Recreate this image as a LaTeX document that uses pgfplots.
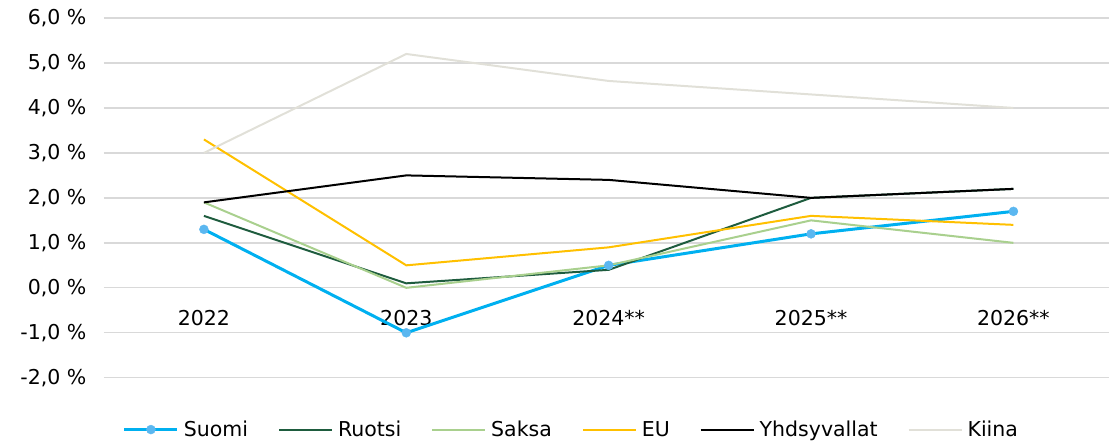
\documentclass[border=0pt]{standalone}
\usepackage{fontspec}
\setmainfont{DejaVu Sans}
\usepackage{pgfplots}
\pgfplotsset{compat=1.18}
\definecolor{suomi}{RGB}{0,176,240}
\definecolor{suomimark}{RGB}{91,183,240}
\definecolor{ruotsi}{RGB}{30,92,62}
\definecolor{saksa}{RGB}{169,208,142}
\definecolor{eu}{RGB}{255,192,0}
\definecolor{kiina}{RGB}{225,224,216}
\definecolor{gridc}{RGB}{217,217,217}
\begin{document}
\begin{tikzpicture}
\begin{axis}[
  name=ax,
  scale only axis,
  width=1006pt, height=360pt,
  xmin=-0.494, xmax=4.474,
  ymin=-2, ymax=6,
  xtick={0,1,2,3,4},
  xticklabels={2022,2023,2024**,2025**,2026**},
  ytick={-2,-1,0,1,2,3,4,5,6},
  yticklabels={{-2,0 \%},{-1,0 \%},{0,0 \%},{1,0 \%},{2,0 \%},{3,0 \%},{4,0 \%},{5,0 \%},{6,0 \%}},
  ymajorgrids,
  grid style={gridc, line width=1.3pt},
  axis line style={draw=none},
  major tick length=0pt,
  tick label style={font=\fontsize{20.5}{24}\selectfont, text=black},
  yticklabel style={xshift=-14pt},
  xticklabel style={yshift=71pt},
  legend style={
    at={(axis description cs:0.465,-0.144)}, anchor=center,
    draw=none, fill=none,
    font=\fontsize{20.5}{24}\selectfont,
    legend columns=-1,
    /tikz/every even column/.append style={column sep=28pt},
    /tikz/every odd column/.append style={column sep=3pt},
  },
  legend image code/.code={
    \draw[mark repeat=2,mark phase=2,#1] plot coordinates {(0pt,0pt) (26.5pt,0pt) (53pt,0pt)};
  },
]
\addplot[suomi, line width=3pt, mark=*, mark size=4.5pt, mark options={fill=suomimark, draw=suomimark, line width=0.4pt, solid}]
  coordinates {(0,1.3) (1,-1.0) (2,0.5) (3,1.2) (4,1.7)};
\addlegendentry{Suomi}
\addplot[ruotsi, line width=2pt, mark=none]
  coordinates {(0,1.6) (1,0.1) (2,0.4) (3,2.0) (4,2.2)};
\addlegendentry{Ruotsi}
\addplot[saksa, line width=2pt, mark=none]
  coordinates {(0,1.9) (1,0.0) (2,0.5) (3,1.5) (4,1.0)};
\addlegendentry{Saksa}
\addplot[eu, line width=2pt, mark=none]
  coordinates {(0,3.3) (1,0.5) (2,0.9) (3,1.6) (4,1.4)};
\addlegendentry{EU}
\addplot[black, line width=2pt, mark=none]
  coordinates {(0,1.9) (1,2.5) (2,2.4) (3,2.0) (4,2.2)};
\addlegendentry{Yhdsyvallat}
\addplot[kiina, line width=2pt, mark=none]
  coordinates {(0,3.0) (1,5.2) (2,4.6) (3,4.3) (4,4.0)};
\addlegendentry{Kiina}
\end{axis}
\path[use as bounding box] (ax.south west) ++(-104pt,-66pt) rectangle ++(1110pt,444pt);
\end{tikzpicture}
\end{document}
